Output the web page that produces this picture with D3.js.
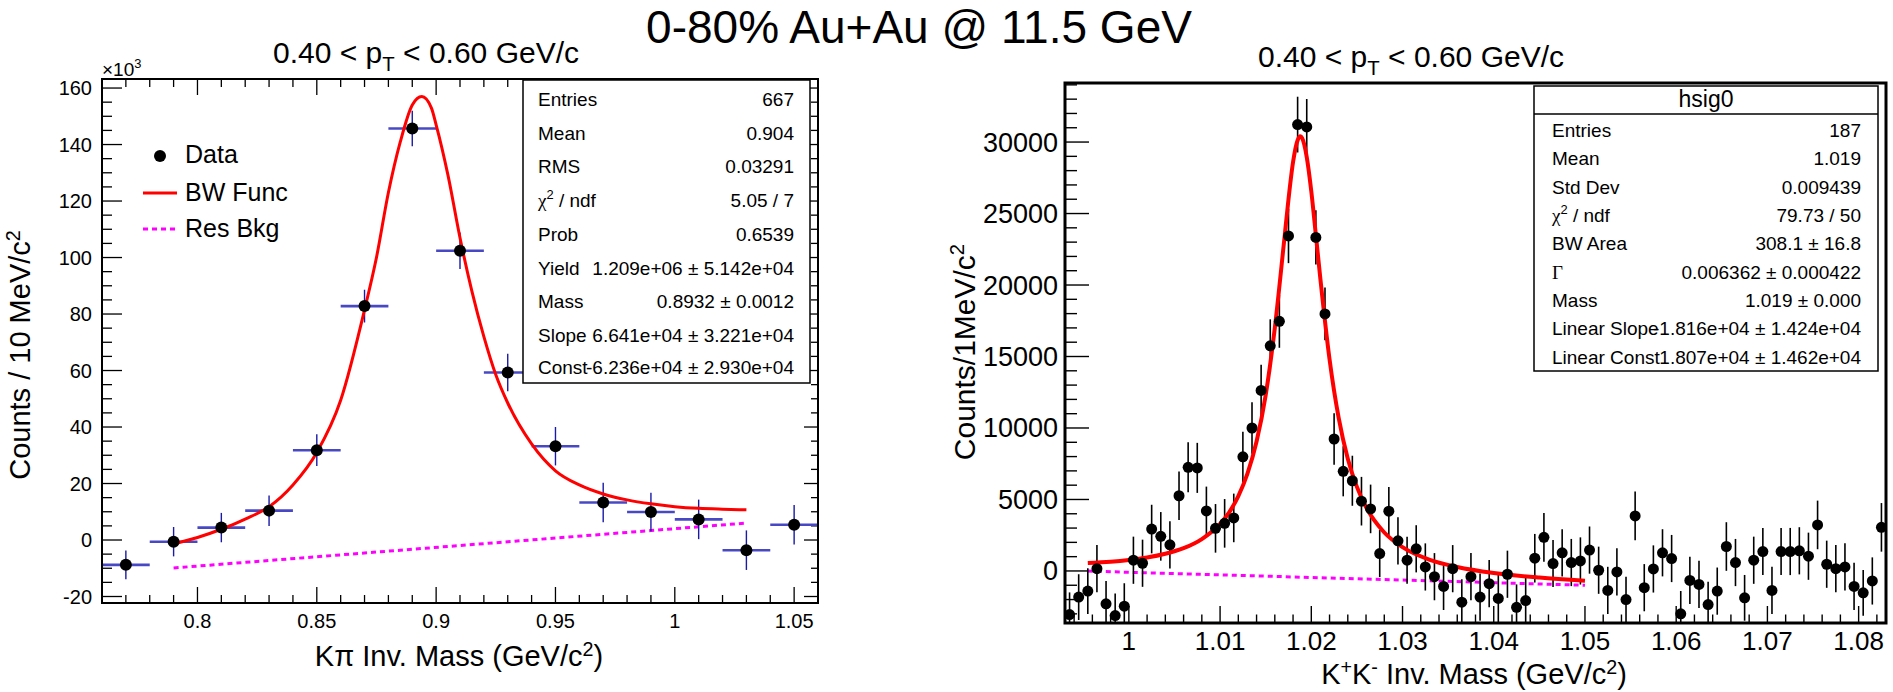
<!DOCTYPE html>
<html><head><meta charset="utf-8">
<script src="https://cdn.jsdelivr.net/npm/d3@7"></script>
<style>
html,body{margin:0;padding:0;background:#fff;}
svg text{font-family:"Liberation Sans",Arial,Helvetica,sans-serif;fill:#000;}
</style></head><body>
<svg id="c" width="1893" height="692"></svg>
<script>
// ---------------- DATA ----------------
const mainTitle = "0-80% Au+Au @ 11.5 GeV";

// Left panel (K*): counts in units of 10^3
const leftMass   = [0.77,0.79,0.81,0.83,0.85,0.87,0.89,0.91,0.93,0.95,0.97,0.99,1.01,1.03,1.05];
const leftCounts = [-8.8,-0.6,4.4,10.4,31.8,82.8,145.7,102.4,59.3,33.2,13.3,9.9,7.3,-3.6,5.4];
const leftErr    = [5.1,5.2,5.2,5.4,5.6,5.8,6.3,6.5,6.6,6.8,7.0,6.8,7.0,7.0,7.0];
const leftBinWidth = 0.02;
const leftFitX = [0.79,0.80,0.81,0.82,0.83,0.84,0.85,0.86,0.87,0.875,0.88,0.885,0.89,0.894,0.898,0.90,0.905,0.91,0.915,0.92,0.925,0.93,0.94,0.95,0.96,0.97,0.98,0.99,1.00,1.01,1.02,1.03];
const leftFitY = [-1.4,0.9,3.8,7.4,11.8,19.5,31,49.5,81.5,100,123,141,154,157,153,147,129,107,88,72,58.5,48.5,34,24.5,19.5,16.3,14.2,12.8,11.8,11.2,10.9,10.7];
const leftBkgX = [0.79,1.03];
const leftBkgY = [-9.9,6.0];
const leftXTicks = [0.8,0.85,0.9,0.95,1,1.05];
const leftXTickLabels = ["0.8","0.85","0.9","0.95","1","1.05"];
const leftYTicks = [-20,0,20,40,60,80,100,120,140,160];
const leftStatLabels = ["Entries","Mean","RMS","χ^2 / ndf","Prob","Yield","Mass","Slope","Const"];
const leftStatValues = ["667","0.904","0.03291","5.05 / 7","0.6539","1.209e+06 ± 5.142e+04","0.8932 ± 0.0012","6.641e+04 ± 3.221e+04","-6.236e+04 ± 2.930e+04"];
const legendLabels = ["Data","BW Func","Res Bkg"];

// Right panel (phi)
const rightMass = [0.9935,0.9945,0.9955,0.9965,0.9975,0.9985,0.9995,1.0005,1.0015,1.0025,
1.0035,1.0045,1.0055,1.0065,1.0075,1.0085,1.0095,1.0105,1.0115,1.0125,
1.0135,1.0145,1.0155,1.0165,1.0175,1.0185,1.0195,1.0205,1.0215,1.0225,
1.0235,1.0245,1.0255,1.0265,1.0275,1.0285,1.0295,1.0305,1.0315,1.0325,
1.0335,1.0345,1.0355,1.0365,1.0375,1.0385,1.0395,1.0405,1.0415,1.0425,
1.0435,1.0445,1.0455,1.0465,1.0475,1.0485,1.0495,1.0505,1.0515,1.0525,
1.0535,1.0545,1.0555,1.0565,1.0575,1.0585,1.0595,1.0605,1.0615,1.0625,
1.0635,1.0645,1.0655,1.0665,1.0675,1.0685,1.0695,1.0705,1.0715,1.0725,
1.0735,1.0745,1.0755,1.0765,1.0775,1.0785,1.0795,1.0805,1.0815,1.0825];
const rightCounts = [-3050,-1830,-1410,160,-2300,-3120,-2460,750,540,2930,
2420,1830,5260,7250,7210,4200,2980,3330,3710,7980,
10000,12630,15750,17460,23430,31220,31060,23330,17980,9230,
6970,6310,4880,4340,1220,4180,2110,750,1550,280,
-400,-1080,160,-2180,-400,-1830,-890,-1920,-230,-2540,
-2070,890,2350,520,1270,590,700,1460,50,-1360,
-70,-2000,3850,-1170,140,1270,870,-3000,-660,-940,
-2350,-1410,1710,590,-1880,750,1360,-1360,1360,1360,
1410,1030,3220,470,160,280,-1080,-1530,-700,3050];
const rightErr = [1550,1600,1600,1650,1600,1550,1600,1650,1650,1700,
1700,1650,1700,1750,1750,1700,1700,1700,1700,1750,
1800,1800,1850,1850,1900,1950,1950,1900,1850,1800,
1750,1750,1700,1700,1650,1700,1650,1650,1650,1650,
1650,1650,1650,1600,1650,1650,1650,1650,1650,1600,
1650,1700,1700,1650,1650,1650,1650,1650,1650,1650,
1650,1600,1700,1650,1650,1650,1650,1600,1650,1650,
1600,1650,1700,1650,1600,1650,1650,1650,1650,1650,
1650,1650,1700,1650,1650,1650,1650,1600,1650,1700];
const rightFitX = [0.9955,0.998,1.000,1.002,1.004,1.006,1.008,1.010,1.011,1.012,1.013,1.014,1.015,1.016,1.017,1.0175,1.018,1.0185,1.0188,1.019,1.0195,1.020,1.0205,1.021,1.022,1.023,1.024,1.025,1.026,1.028,1.030,1.033,1.036,1.040,1.045,1.050];
const rightFitY = [560,650,770,940,1200,1590,2230,3290,4100,5230,6800,9050,12300,17000,22950,26000,28600,30130,30400,30270,28950,26550,23500,20400,14800,10700,7850,5880,4470,2690,1670,780,280,-140,-460,-680];
const rightBkgX = [0.9955,1.050];
const rightBkgY = [-10,-1000];
const rightXTicks = [1,1.01,1.02,1.03,1.04,1.05,1.06,1.07,1.08];
const rightXTickLabels = ["1","1.01","1.02","1.03","1.04","1.05","1.06","1.07","1.08"];
const rightYTicks = [0,5000,10000,15000,20000,25000,30000];
const rightStatTitle = "hsig0";
const rightStatLabels = ["Entries","Mean","Std Dev","χ^2 / ndf","BW Area","Γ","Mass","Linear Slope","Linear Const"];
const rightStatValues = ["187","1.019","0.009439","79.73 / 50","308.1 ± 16.8","0.006362 ± 0.000422","1.019 ± 0.000","-1.816e+04 ± 1.424e+04","1.807e+04 ± 1.462e+04"];

// ---------------- HELPERS ----------------
const svg = d3.select("#c");
const RED = "#ff0000", MAG = "#ff00ff";

function rich(sel, x, y, parts, size, anchor, supShift) {
  const ss = supShift || 0.42;
  const t = sel.append("text").attr("x", x).attr("y", y)
    .attr("font-size", size).attr("text-anchor", anchor || "start");
  let shift = 0;
  parts.forEach(p => {
    const target = p.sup ? -ss * size : (p.sub ? 0.28 * size : 0);
    const ts = t.append("tspan").attr("dy", (target - shift).toFixed(2)).text(p.t);
    if (p.sup || p.sub) ts.attr("font-size", size * 0.68);
    if (p.serif) ts.style("font-family", "'Liberation Serif','DejaVu Serif',serif");
    shift = target;
  });
  return t;
}
function labelParts(s) {
  if (s.startsWith("χ^2")) return [{t:"χ", serif:true},{t:"2", sup:true},{t:s.slice(3)}];
  if (s === "Γ") return [{t:"Γ", serif:true}];
  return [{t:s}];
}

function ticksAxis(g, scale, vals, side, len, pos, width) {
  vals.forEach(v => {
    const p = scale(v);
    let l;
    if (side === "bottom") l = [p, pos, p, pos - len];
    else if (side === "top") l = [p, pos, p, pos + len];
    else if (side === "left") l = [pos, p, pos + len, p];
    else l = [pos, p, pos - len, p];
    g.append("line").attr("x1", l[0]).attr("y1", l[1]).attr("x2", l[2]).attr("y2", l[3])
      .attr("stroke", "#000").attr("stroke-width", width);
  });
}

// ---------------- MAIN TITLE ----------------
svg.append("text").attr("x", 919).attr("y", 43).attr("text-anchor", "middle")
  .attr("font-size", 46).text(mainTitle);

// ---------------- LEFT PANEL ----------------
{
  const X0 = 102, X1 = 818, Y0 = 79, Y1 = 603;
  const x = d3.scaleLinear().domain([0.76, 1.06]).range([X0, X1]);
  const y = d3.scaleLinear().domain([-22.3, 163.2]).range([Y1, Y0]);
  const g = svg.append("g");
  g.append("clipPath").attr("id", "clipL").append("rect")
    .attr("x", X0).attr("y", Y0).attr("width", X1 - X0).attr("height", Y1 - Y0);

  const minorX = d3.range(76, 107).map(i => i / 100).filter(v => !leftXTicks.some(t => Math.abs(t - v) < 1e-6));
  const minorY = d3.range(-20, 165, 5).filter(v => v % 20 !== 0);
  const tg = g.append("g");
  ticksAxis(tg, x, leftXTicks, "bottom", 16, Y1, 1.3);
  ticksAxis(tg, x, minorX, "bottom", 8, Y1, 1.3);
  ticksAxis(tg, x, leftXTicks, "top", 16, Y0, 1.3);
  ticksAxis(tg, x, minorX, "top", 8, Y0, 1.3);
  ticksAxis(tg, y, leftYTicks, "left", 20, X0, 1.3);
  ticksAxis(tg, y, minorY, "left", 10, X0, 1.3);
  ticksAxis(tg, y, leftYTicks, "right", 14, X1, 1.3);
  ticksAxis(tg, y, minorY, "right", 7, X1, 1.3);

  leftXTicks.forEach((v, i) => g.append("text").attr("x", x(v)).attr("y", 628)
    .attr("text-anchor", "middle").attr("font-size", 20).text(leftXTickLabels[i]));
  leftYTicks.forEach(v => g.append("text").attr("x", 92).attr("y", y(v) + 7)
    .attr("text-anchor", "end").attr("font-size", 20).text(String(v)));
  rich(g, 102, 76, [{t:"×10"},{t:"3", sup:true}], 19, "start");

  rich(g, 459, 666, [{t:"Kπ Inv. Mass (GeV/c"},{t:"2", sup:true},{t:")"}], 29, "middle", 0.36);
  const yt = g.append("g").attr("transform", "translate(30,355) rotate(-90)");
  rich(yt, 0, 0, [{t:"Counts / 10 MeV/c"},{t:"2", sup:true}], 29, "middle", 0.34);

  rich(g, 426, 63, [{t:"0.40 < p"},{t:"T", sub:true},{t:" < 0.60 GeV/c"}], 30, "middle");

  const dg = g.append("g").attr("clip-path", "url(#clipL)");
  const line = d3.line().x(d => x(d[0])).y(d => y(d[1]));
  dg.append("path").datum(d3.zip(leftBkgX, leftBkgY)).attr("d", line)
    .attr("fill", "none").attr("stroke", MAG).attr("stroke-width", 3).attr("stroke-dasharray", "5,4");
  leftMass.forEach((m, i) => {
    dg.append("line").attr("x1", x(m - leftBinWidth / 2)).attr("x2", x(m + leftBinWidth / 2))
      .attr("y1", y(leftCounts[i])).attr("y2", y(leftCounts[i]))
      .attr("stroke", "#4848c4").attr("stroke-width", 2.6);
    dg.append("line").attr("x1", x(m)).attr("x2", x(m))
      .attr("y1", y(leftCounts[i] - leftErr[i])).attr("y2", y(leftCounts[i] + leftErr[i]))
      .attr("stroke", "#1a1aa6").attr("stroke-width", 1.4);
  });
  const curve = d3.line().x(d => x(d[0])).y(d => y(d[1])).curve(d3.curveMonotoneX);
  dg.append("path").datum(d3.zip(leftFitX, leftFitY)).attr("d", curve)
    .attr("fill", "none").attr("stroke", RED).attr("stroke-width", 3);
  leftMass.forEach((m, i) => {
    dg.append("circle").attr("cx", x(m)).attr("cy", y(leftCounts[i])).attr("r", 6).attr("fill", "#000");
  });

  g.append("rect").attr("x", X0).attr("y", Y0).attr("width", X1 - X0).attr("height", Y1 - Y0)
    .attr("fill", "none").attr("stroke", "#000").attr("stroke-width", 2);

  const lg = g.append("g");
  lg.append("circle").attr("cx", 160).attr("cy", 156).attr("r", 6).attr("fill", "#000");
  lg.append("line").attr("x1", 143).attr("x2", 177).attr("y1", 193).attr("y2", 193)
    .attr("stroke", RED).attr("stroke-width", 3);
  lg.append("line").attr("x1", 143).attr("x2", 177).attr("y1", 229).attr("y2", 229)
    .attr("stroke", MAG).attr("stroke-width", 3).attr("stroke-dasharray", "5,4");
  [163, 201, 237].forEach((yy, i) => lg.append("text").attr("x", 185).attr("y", yy)
    .attr("font-size", 25).text(legendLabels[i]));

  const sb = g.append("g");
  sb.append("rect").attr("x", 523).attr("y", 80).attr("width", 287).attr("height", 303)
    .attr("fill", "#fff").attr("stroke", "#000").attr("stroke-width", 1.5);
  const rowsY = [99, 133, 166, 200, 234, 268, 301, 335, 367];
  leftStatLabels.forEach((lab, i) => {
    rich(sb, 538, rowsY[i] + 7, labelParts(lab), 19, "start");
    sb.append("text").attr("x", 794).attr("y", rowsY[i] + 7).attr("text-anchor", "end")
      .attr("font-size", 19).text(leftStatValues[i]);
  });
}

// ---------------- RIGHT PANEL ----------------
{
  const X0 = 1065, X1 = 1886, Y0 = 83, Y1 = 623;
  const x = d3.scaleLinear().domain([0.993, 1.083]).range([X0, X1]);
  const y = d3.scaleLinear().domain([-3640, 34130]).range([Y1, Y0]);
  const g = svg.append("g");
  g.append("clipPath").attr("id", "clipR").append("rect")
    .attr("x", X0).attr("y", Y0).attr("width", X1 - X0).attr("height", Y1 - Y0);

  const minorX = d3.range(497, 542).map(i => i * 0.002).filter(v => !rightXTicks.some(t => Math.abs(t - v) < 1e-6));
  const minorY = d3.range(-3000, 34001, 1000).filter(v => v % 5000 !== 0);
  const tg = g.append("g");
  ticksAxis(tg, x, rightXTicks, "bottom", 17, Y1, 1.4);
  ticksAxis(tg, x, minorX, "bottom", 8.5, Y1, 1.4);
  ticksAxis(tg, y, rightYTicks, "left", 24, X0, 1.4);
  ticksAxis(tg, y, minorY, "left", 12, X0, 1.4);

  rightXTicks.forEach((v, i) => g.append("text").attr("x", x(v)).attr("y", 650)
    .attr("text-anchor", "middle").attr("font-size", 26).text(rightXTickLabels[i]));
  rightYTicks.forEach(v => g.append("text").attr("x", 1058).attr("y", y(v) + 9.5)
    .attr("text-anchor", "end").attr("font-size", 27).text(String(v)));

  rich(g, 1474, 684, [{t:"K"},{t:"+", sup:true},{t:"K"},{t:"-", sup:true},{t:" Inv. Mass (GeV/c"},{t:"2", sup:true},{t:")"}], 29, "middle", 0.34);
  const yt = g.append("g").attr("transform", "translate(975,352) rotate(-90)");
  rich(yt, 0, 0, [{t:"Counts/1MeV/c"},{t:"2", sup:true}], 30, "middle", 0.36);

  rich(g, 1411, 67, [{t:"0.40 < p"},{t:"T", sub:true},{t:" < 0.60 GeV/c"}], 30, "middle");

  const dg = g.append("g").attr("clip-path", "url(#clipR)");
  const line = d3.line().x(d => x(d[0])).y(d => y(d[1]));
  dg.append("path").datum(d3.zip(rightBkgX, rightBkgY)).attr("d", line)
    .attr("fill", "none").attr("stroke", MAG).attr("stroke-width", 3).attr("stroke-dasharray", "5,4");
  rightMass.forEach((m, i) => {
    dg.append("line").attr("x1", x(m)).attr("x2", x(m))
      .attr("y1", y(rightCounts[i] - rightErr[i])).attr("y2", y(rightCounts[i] + rightErr[i]))
      .attr("stroke", "#000").attr("stroke-width", 1.6);
  });
  const curve = d3.line().x(d => x(d[0])).y(d => y(d[1])).curve(d3.curveMonotoneX);
  dg.append("path").datum(d3.zip(rightFitX, rightFitY)).attr("d", curve)
    .attr("fill", "none").attr("stroke", RED).attr("stroke-width", 4);
  rightMass.forEach((m, i) => {
    dg.append("circle").attr("cx", x(m)).attr("cy", y(rightCounts[i])).attr("r", 5.5).attr("fill", "#000");
  });

  g.append("rect").attr("x", X0).attr("y", Y0).attr("width", X1 - X0).attr("height", Y1 - Y0)
    .attr("fill", "none").attr("stroke", "#000").attr("stroke-width", 3);

  const sb = g.append("g");
  sb.append("rect").attr("x", 1534).attr("y", 86).attr("width", 344).attr("height", 285)
    .attr("fill", "#fff").attr("stroke", "#000").attr("stroke-width", 1.5);
  sb.append("line").attr("x1", 1534).attr("x2", 1878).attr("y1", 114).attr("y2", 114)
    .attr("stroke", "#000").attr("stroke-width", 1.5);
  sb.append("text").attr("x", 1706).attr("y", 107).attr("text-anchor", "middle")
    .attr("font-size", 23).text(rightStatTitle);
  const rowsY = [130, 158, 187, 215, 243, 272, 300, 328, 357];
  rightStatLabels.forEach((lab, i) => {
    rich(sb, 1552, rowsY[i] + 7, labelParts(lab), 19, "start");
    sb.append("text").attr("x", 1861).attr("y", rowsY[i] + 7).attr("text-anchor", "end")
      .attr("font-size", 19).text(rightStatValues[i]);
  });
}
</script>
</body></html>
